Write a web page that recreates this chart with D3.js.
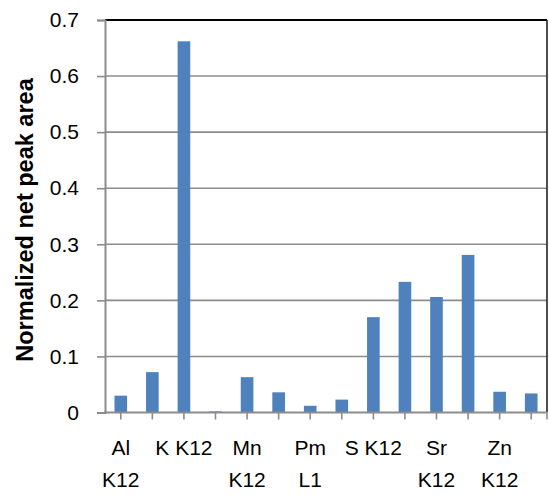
<!DOCTYPE html>
<html>
<head>
<meta charset="utf-8">
<script src="https://cdn.jsdelivr.net/npm/d3@7"></script>
<style>
  html, body { margin: 0; padding: 0; background: #fff; }
  svg { display: block; }
  text { font-family: "Liberation Sans", Arial, sans-serif; fill: #000; }
</style>
</head>
<body>
<svg id="chart" width="549" height="495"></svg>
<script>
// Emission lines (element + line family), in plotting order
const categories = ["Al K12", "Ca K12", "K K12", "Mg K12", "Mn K12", "Ni K12", "Pm L1",
                    "Rb K12", "S K12", "Si K12", "Sr K12", "Ti K12", "Zn K12", "Zr K12"];
// Normalized net peak area per line
const values = [0.030, 0.072, 0.662, 0.002, 0.063, 0.036, 0.012,
                0.023, 0.170, 0.233, 0.206, 0.281, 0.037, 0.034];
// Only every second category gets a label on the axis
const labelEvery = 2;
const yTicks = [0, 0.1, 0.2, 0.3, 0.4, 0.5, 0.6, 0.7];

const svg = d3.select("#chart");
const plot = { left: 105, right: 547, top: 20, bottom: 412.5 };

const x = d3.scaleBand()
  .domain(categories)
  .range([plot.left, plot.right])
  .paddingInner(0.6)
  .paddingOuter(0.3);

const y = d3.scaleLinear()
  .domain([0, 0.7])
  .range([plot.bottom, plot.top]);

// Horizontal gridlines
svg.append("g")
  .selectAll("line")
  .data(yTicks.slice(1))
  .join("line")
  .attr("x1", plot.left)
  .attr("x2", plot.right)
  .attr("y1", d => y(d))
  .attr("y2", d => y(d))
  .attr("stroke", d => d === 0.7 ? "#000" : "#8c8c8c")
  .attr("stroke-width", d => d === 0.7 ? 2 : 1.6);

// Right frame edge
svg.append("line")
  .attr("x1", plot.right).attr("x2", plot.right)
  .attr("y1", plot.top).attr("y2", plot.bottom)
  .attr("stroke", "#222").attr("stroke-width", 1.6);

// Bars
svg.append("g")
  .selectAll("rect")
  .data(values)
  .join("rect")
  .attr("x", (d, i) => x(categories[i]))
  .attr("width", x.bandwidth())
  .attr("y", d => y(d))
  .attr("height", d => y(0) - y(d))
  .attr("fill", "#4f81bd");

// Y axis
const yAxis = d3.axisLeft(y)
  .tickValues(yTicks)
  .tickFormat(d => d === 0 ? "0" : d3.format(".1f")(d))
  .tickSize(8)
  .tickPadding(18);

const gy = svg.append("g")
  .attr("transform", `translate(${plot.left},0)`)
  .call(yAxis);
gy.select(".domain").attr("stroke", "#8c8c8c").attr("stroke-width", 2);
gy.selectAll(".tick line").attr("stroke", "#8c8c8c").attr("stroke-width", 1.6);
gy.selectAll(".tick text")
  .attr("font-size", 21)
  .attr("font-family", "Liberation Sans, Arial, sans-serif")
  .attr("fill", "#000");

// X axis line and tick marks at each category centre plus the right end
const gx = svg.append("g");
gx.append("line")
  .attr("x1", plot.left - 1).attr("x2", plot.right)
  .attr("y1", plot.bottom).attr("y2", plot.bottom)
  .attr("stroke", "#8c8c8c").attr("stroke-width", 2);
const tickXs = categories.map(c => x(c) + x.bandwidth() / 2).concat([plot.right]);
gx.selectAll("line.tick")
  .data(tickXs)
  .join("line")
  .attr("class", "tick")
  .attr("x1", d => d).attr("x2", d => d)
  .attr("y1", plot.bottom).attr("y2", plot.bottom + 7)
  .attr("stroke", "#8c8c8c").attr("stroke-width", 1.6);

// Category labels; long ones wrap onto a second line
const wrapWidth = 59;
categories.forEach((c, i) => {
  if (i % labelEvery !== 0) return;
  const cx = x(c) + x.bandwidth() / 2;
  const t = gx.append("text")
    .attr("x", cx)
    .attr("y", 455)
    .attr("text-anchor", "middle")
    .attr("font-size", 21)
    .text(c);
  const w = t.node().getComputedTextLength();
  if (w > wrapWidth) {
    const words = c.split(" ");
    t.text(null);
    t.append("tspan").attr("x", cx).attr("dy", 0).text(words[0]);
    t.append("tspan").attr("x", cx).attr("dy", 32).text(words.slice(1).join(" "));
  }
});

// Y axis title
svg.append("text")
  .attr("transform", `translate(33,220) rotate(-90)`)
  .attr("text-anchor", "middle")
  .attr("font-size", 23.5)
  .attr("font-weight", "bold")
  .text("Normalized net peak area");
</script>
</body>
</html>
